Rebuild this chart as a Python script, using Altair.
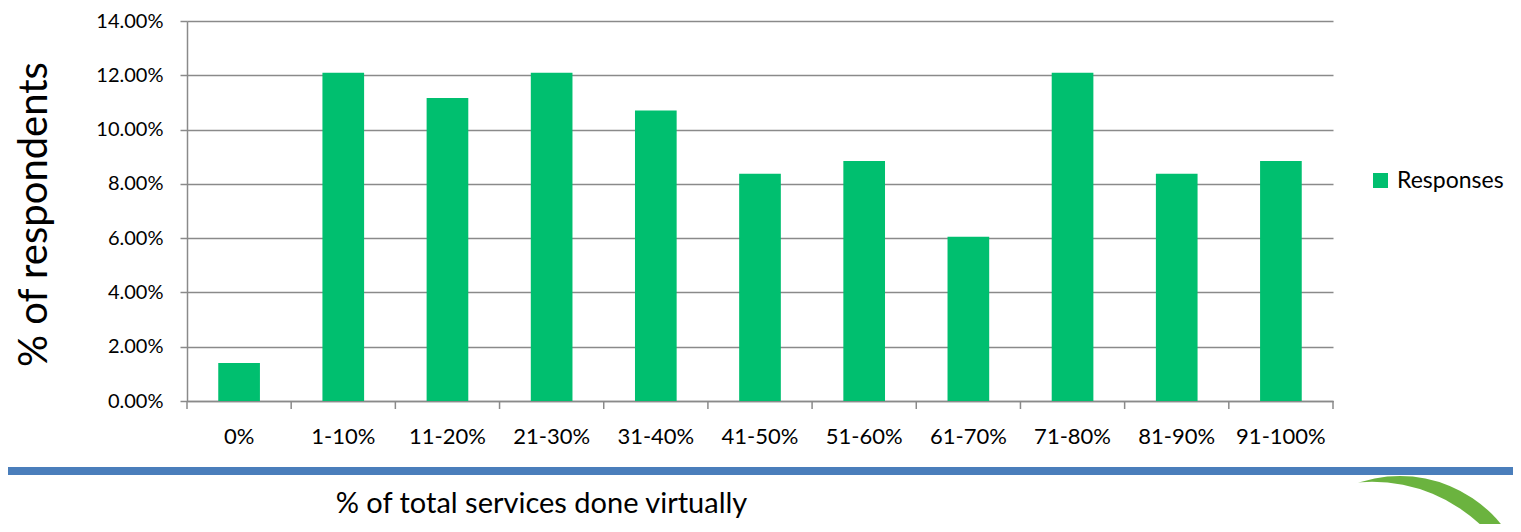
import altair as alt
import pandas as pd

categories = ["0%", "1-10%", "11-20%", "21-30%", "31-40%", "41-50%",
              "51-60%", "61-70%", "71-80%", "81-90%", "91-100%"]
responses = [0.0140, 0.1209, 0.1116, 0.1209, 0.1070, 0.0837,
             0.0884, 0.0605, 0.1209, 0.0837, 0.0884]
series_name = "Responses"

W, H = 1146, 380
TOP = 13
FONT = "Lato"
GRAY = "#8a8a8a"
GREEN = "#00BF6F"

df = pd.DataFrame({"cat": categories, "val": responses, "series": series_name})

xscale = alt.Scale(domain=categories, paddingInner=0, paddingOuter=0)

bars = alt.Chart(df).mark_bar(width={"band": 0.4}).encode(
    x=alt.X("cat:N", sort=categories, scale=xscale,
            title="% of total services done virtually",
            axis=alt.Axis(labelAngle=0, ticks=False, tickSize=0, labelPadding=35,
                          labelBaseline="middle", labelFontSize=22, labelFont=FONT,
                          labelColor="#000000", domainColor=GRAY, domainWidth=1.5,
                          titleFont=FONT, titleFontSize=29, titleFontWeight="normal",
                          titleColor="#000000", titleX=354, titleY=102,
                          titleBaseline="middle", titleAlign="center")),
    y=alt.Y("val:Q", scale=alt.Scale(domain=[0, 0.14], nice=False),
            title="% of respondents",
            axis=alt.Axis(format=".2%", values=[0, 0.02, 0.04, 0.06, 0.08, 0.10, 0.12, 0.14],
                          tickSize=7, tickColor=GRAY, tickWidth=1.5,
                          gridColor=GRAY, gridWidth=1.5, domainColor=GRAY, domainWidth=1.5,
                          labelPadding=17, labelFontSize=20, labelFont=FONT,
                          labelColor="#000000",
                          titleFont=FONT, titleFontSize=40, titleFontWeight="normal",
                          titleColor="#000000", titleAngle=270, titleX=-153, titleY=193,
                          titleBaseline="middle", titleAlign="center")),
    color=alt.Color("series:N", scale=alt.Scale(range=[GREEN]),
                    legend=alt.Legend(title=None, orient="none", legendX=1182, legendY=148,
                                      symbolType="square", symbolSize=225,
                                      symbolStrokeWidth=0, labelFont=FONT,
                                      labelFontSize=23, labelColor="#000000",
                                      labelOffset=5)),
)

ticks = alt.Chart(df).mark_rule(color=GRAY, strokeWidth=1.5).encode(
    x=alt.X("cat:N", sort=categories, scale=xscale, bandPosition=0),
    y=alt.value(H),
    y2=alt.value(H + 8),
)

end_tick = alt.Chart(df.tail(1)).mark_rule(color=GRAY, strokeWidth=1.5).encode(
    x=alt.X("cat:N", sort=categories, scale=xscale, bandPosition=1),
    y=alt.value(H),
    y2=alt.value(H + 8),
)

blue_line = alt.Chart(df.head(1)).mark_rule(color="#4A7EBB", strokeWidth=8).encode(
    x=alt.value(-187), x2=alt.value(1334), y=alt.value(450),
)

# decorative swoosh: green disc partly covered by a white disc -> crescent
disc_green = alt.Chart(df.head(1)).mark_arc(color="#6BB33F").encode(
    x=alt.value(1213), y=alt.value(585),
    radius=alt.value(130), theta=alt.value(0), theta2=alt.value(6.2832),
)
disc_white = alt.Chart(df.head(1)).mark_arc(color="white").encode(
    x=alt.value(1185), y=alt.value(619),
    radius=alt.value(158.3), theta=alt.value(0), theta2=alt.value(6.2832),
)

chart = alt.layer(bars, ticks, end_tick, blue_line, disc_green, disc_white).properties(
    width=W, height=H,
    background="white",
    autosize=alt.AutoSizeParams(type="none"),
    padding={"left": 179, "top": TOP, "right": 180, "bottom": 123},
).configure_view(stroke=None, strokeWidth=0)

chart.save("out.html", embed_options={"renderer": "svg", "actions": False})
